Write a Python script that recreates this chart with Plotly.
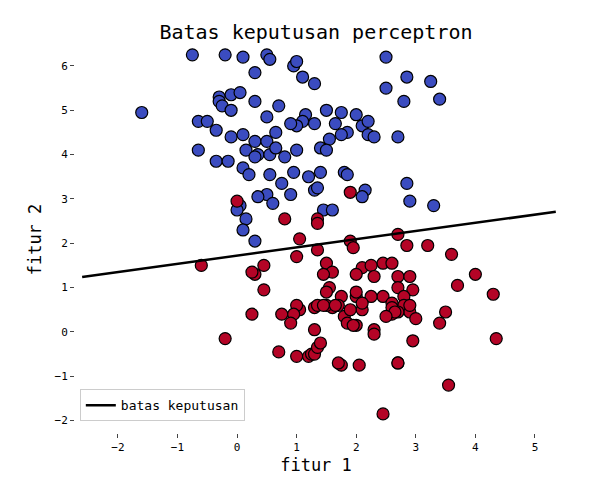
import plotly.graph_objects as go

blue_x = [-0.75,-0.2,0.1,0.5,0.55,0.95,1.0,0.3,1.1,1.3,2.5,2.85,3.25,2.5,2.8,3.4,-1.6,-0.3,-0.3,-0.25,-0.1,0.05,0.3,-0.1,0.5,0.7,1.15,1.1,1.3,1.0,0.9,1.5,1.75,2.0,2.1,2.2,1.65,1.85,1.55,1.75,2.2,-0.65,-0.5,-0.35,-0.1,0.1,0.3,0.5,0.65,0.35,0.55,0.65,0.15,0.3,0.8,1.0,1.4,1.5,2.3,2.7,-0.65,-0.35,-0.15,0.1,0.2,0.55,0.75,0.95,1.2,1.3,1.4,1.8,1.85,0.5,0.9,1.35,2.15,2.1,2.85,2.9,3.3,0.05,0.0,0.15,0.35,0.6,1.45,1.6,0.1,0.3]
blue_y = [6.25,6.25,6.2,6.25,6.15,6.0,6.1,5.85,5.75,5.6,6.2,5.75,5.65,5.5,5.2,5.25,4.95,5.3,5.2,5.1,5.35,5.4,5.2,5.0,4.85,5.1,4.9,4.75,4.7,4.65,4.7,5.0,4.95,4.9,4.65,4.45,4.7,4.5,4.35,4.45,4.75,4.75,4.75,4.55,4.4,4.45,4.3,4.3,4.5,4.0,4.0,4.15,4.1,3.95,3.95,4.1,4.15,4.1,4.4,4.4,4.1,3.85,3.85,3.7,3.55,3.55,3.35,3.6,3.5,3.2,3.6,3.6,3.55,3.1,3.1,3.25,3.2,3.05,3.35,2.95,2.85,2.85,2.75,2.55,3.05,2.9,2.75,2.75,2.3,2.05]

red_x = [0.0,1.9,0.8,1.35,1.35,-0.6,0.45,0.3,0.25,1.05,1.9,1.95,2.7,2.85,3.2,3.6,1.0,1.35,1.5,1.6,1.45,2.1,2.0,2.45,2.25,2.3,2.6,2.7,2.9,2.7,2.95,1.55,1.75,1.5,1.7,1.6,2.0,2.0,2.1,2.45,2.8,2.8,2.9,2.9,2.6,2.6,3.0,3.5,3.7,4.0,4.3,4.35,3.4,-0.2,0.25,0.45,0.75,1.05,1.0,0.95,1.3,1.35,1.5,0.9,1.3,1.45,1.8,1.9,1.85,2.0,2.3,2.3,2.7,2.7,2.05,1.75,1.7,0.7,1.0,1.2,1.25,1.3,1.35,1.4,1.65,1.95,2.6,2.95,2.7,3.55,2.45,2.65,2.25,2.5,2.1]
red_y = [2.95,3.15,2.55,2.55,2.45,1.5,1.5,1.3,1.35,2.1,2.05,1.9,2.2,1.95,1.95,1.75,1.7,1.85,1.55,1.35,1.3,1.45,1.3,1.55,1.5,1.25,1.55,1.25,1.25,1.0,0.95,1.0,0.8,0.9,0.6,0.55,0.8,0.9,0.5,0.8,0.8,0.6,0.45,0.6,0.65,0.4,0.3,0.45,1.05,1.3,0.85,-0.15,0.2,-0.15,0.4,0.95,0.4,0.5,0.6,0.4,0.55,0.6,0.6,0.2,0.05,0.6,0.35,0.5,0.2,0.15,0.05,-0.05,-0.7,-0.7,-0.75,-0.75,-0.7,-0.45,-0.55,-0.55,-0.5,-0.5,-0.35,-0.25,0.6,0.15,0.55,-0.2,0.45,-1.2,-1.85,0.45,0.8,0.35,0.65]

line_x = [-2.6, 5.35]
line_y = [1.24, 2.71]

font = "DejaVu Sans Mono"
fig = go.Figure()
mk = dict(size=12, line=dict(color="black", width=1.2))
fig.add_trace(go.Scatter(x=blue_x, y=blue_y, mode="markers", marker=dict(color="#3b4cc0", **mk), showlegend=False))
fig.add_trace(go.Scatter(x=red_x, y=red_y, mode="markers", marker=dict(color="#b40426", **mk), showlegend=False))
fig.add_trace(go.Scatter(x=line_x, y=line_y, mode="lines", line=dict(color="black", width=2.5), name="batas keputusan"))

fig.update_layout(
    width=590, height=490, plot_bgcolor="white", paper_bgcolor="white",
    margin=dict(l=67, r=41, t=38, b=65),
    font=dict(family=font, size=11, color="black"),
    title=dict(text="Batas keputusan perceptron", x=0.5, xref="paper", xanchor="center", y=0.965, font=dict(size=20)),
    xaxis=dict(range=[-2.72, 5.37], tickvals=[-2,-1,0,1,2,3,4,5], showgrid=False, zeroline=False,
               ticks="outside", ticklen=4, title=dict(text="fitur 1", font=dict(size=17), standoff=5)),
    yaxis=dict(range=[-2.28, 6.45], tickvals=[-2,-1,0,1,2,3,4,5,6], showgrid=False, zeroline=False,
               ticks="outside", ticklen=4, title=dict(text="fitur 2", font=dict(size=17), standoff=8)),
    legend=dict(x=0.01, y=0.03, xanchor="left", yanchor="bottom", bordercolor="#cccccc", borderwidth=1,
                bgcolor="white", font=dict(size=13)),
)
fig.write_html("out.html")
